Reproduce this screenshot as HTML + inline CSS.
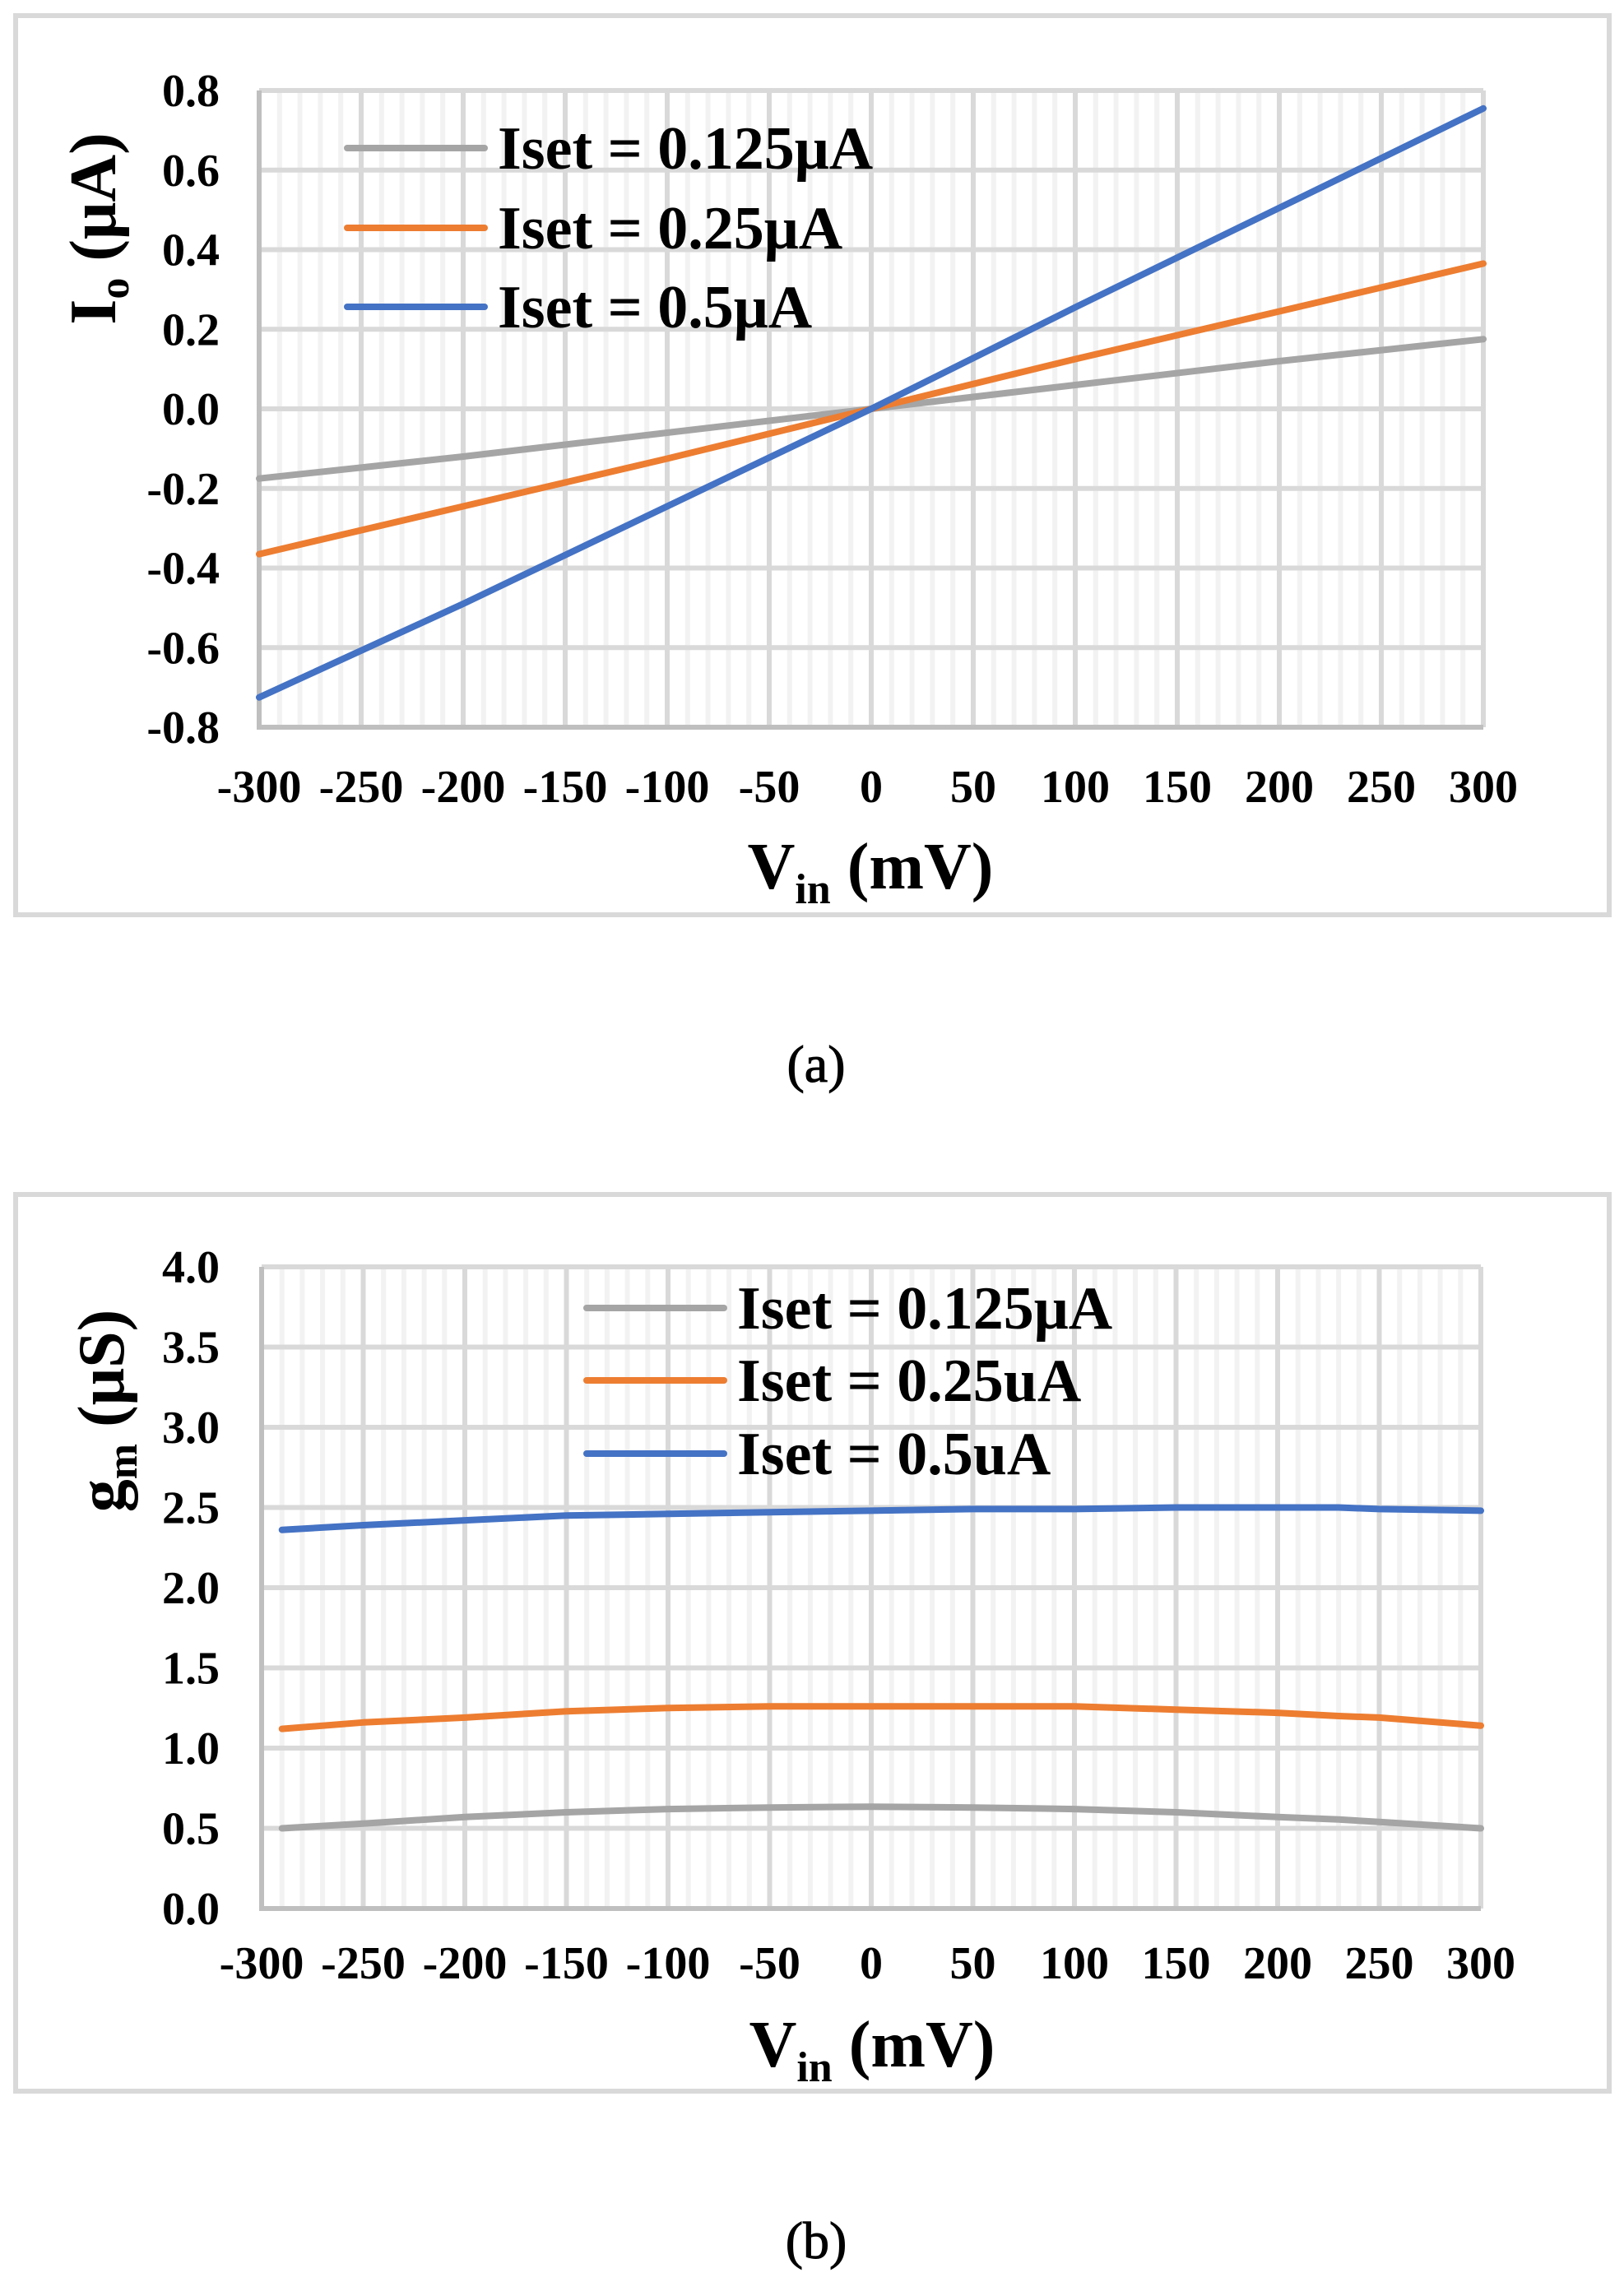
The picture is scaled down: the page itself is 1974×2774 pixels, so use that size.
<!DOCTYPE html>
<html><head><meta charset="utf-8"><style>
html,body{margin:0;padding:0;background:#fff;}
svg{display:block;}
text{font-family:"Liberation Serif",serif;}
</style></head><body>
<svg id="s" width="1974" height="2774" xmlns="http://www.w3.org/2000/svg"></svg>
<script>
// Chart (a) data
const xA = [-300,-200,-100,0,100,200,300];
const aGray = [-0.175,-0.12,-0.06,0,0.06,0.12,0.175];
const aOrange = [-0.365,-0.245,-0.125,0,0.125,0.245,0.365];
const aBlue = [-0.725,-0.49,-0.245,0,0.255,0.505,0.755];
const aYTicks = [-0.8,-0.6,-0.4,-0.2,0,0.2,0.4,0.6,0.8];
// Chart (b) data
const xB = [-290,-250,-200,-150,-100,-50,0,50,100,150,200,230,250,300];
const bGray = [0.50,0.53,0.57,0.60,0.62,0.63,0.635,0.63,0.62,0.60,0.57,0.555,0.54,0.50];
const bOrange = [1.12,1.16,1.19,1.23,1.25,1.26,1.26,1.26,1.26,1.24,1.22,1.20,1.19,1.14];
const bBlue = [2.36,2.39,2.42,2.45,2.46,2.47,2.48,2.49,2.49,2.50,2.50,2.50,2.49,2.48];
const bYTicks = [0,0.5,1,1.5,2,2.5,3,3.5,4];
const xTicks = [-300,-250,-200,-150,-100,-50,0,50,100,150,200,250,300];
const labelsA = ["Iset = 0.125μA","Iset = 0.25μA","Iset = 0.5μA"];
const labelsB = ["Iset = 0.125μA","Iset = 0.25uA","Iset = 0.5uA"];

const NS="http://www.w3.org/2000/svg";
const svg=document.getElementById('s');
function mk(tag,attrs,parent,txt){const e=document.createElementNS(NS,tag);for(const k in attrs)e.setAttribute(k,attrs[k]);if(txt!==undefined)e.textContent=txt;(parent||svg).appendChild(e);return e;}
const colors=["#a5a5a5","#ed7d31","#4472c4"];

function chart(cfg){
  const g=mk('g',{});
  
  
  const b=mk('rect',{x:cfg.box[0],y:cfg.box[1],width:cfg.box[2],height:cfg.box[3],fill:'#fff',stroke:'#d9d9d9','stroke-width':6},g);
  
  
  const L=cfg.L,R=cfg.R,T=cfg.T,B=cfg.B;
  const sx=v=>L+(v+300)/600*(R-L);
  const sy=v=>B-(v-cfg.ymin)/(cfg.ymax-cfg.ymin)*(B-T);
  for(let v=-290;v<300;v+=10){ if(v%50===0)continue;
    const l=mk('line',{x1:sx(v),x2:sx(v),y1:T,y2:B,stroke:'#f2f2f2','stroke-width':6},g);
    
    
  }
  xTicks.forEach(v=>{
    const l=mk('line',{x1:sx(v),x2:sx(v),y1:T,y2:B,stroke:'#d9d9d9','stroke-width':6},g);
    
    
  });
  cfg.yt.forEach(v=>{
    const l=mk('line',{x1:L,x2:R,y1:sy(v),y2:sy(v),stroke:'#d9d9d9','stroke-width':6},g);
    
    
    const t=mk('text',{x:267,y:sy(v)+19,'text-anchor':'end','font-size':56,'font-weight':'bold'},g,cfg.fmt(v));
    
    
  });
  const ax=mk('path',{d:`M${L},${T} L${L},${B} L${R},${B}`,fill:'none',stroke:'#bfbfbf','stroke-width':6},g);
  
  
  xTicks.forEach(v=>{
    const t=mk('text',{x:sx(v),y:cfg.xtY,'text-anchor':'middle','font-size':56,'font-weight':'bold'},g,String(v));
    
    
  });
  cfg.series.forEach((s,i)=>{
    const d=s.map((v,j)=>(j?'L':'M')+sx(cfg.xs[j]).toFixed(1)+','+sy(v).toFixed(1)).join(' ');
    const p=mk('path',{d:d,fill:'none',stroke:colors[i],'stroke-width':8,'stroke-linejoin':'round','stroke-linecap':'round'},g);
    
    
  });
  cfg.labels.forEach((lab,i)=>{
    const y=cfg.legY[i];
    const l=mk('line',{x1:cfg.legX,x2:cfg.legX+167,y1:y,y2:y,stroke:colors[i],'stroke-width':8,'stroke-linecap':'round'},g);
    
    
    const t=mk('text',{x:cfg.legX+183,y:y+25,'font-size':74,'font-weight':'bold'},g,lab);
    
    
  });
  const xt=mk('text',{x:cfg.xTitleX,y:cfg.xTitleY,'text-anchor':'middle','font-size':80,'font-weight':'bold'},g);
  
  
  mk('tspan',{},xt,'V');
  mk('tspan',{'font-size':52,dy:18},xt,'in');
  mk('tspan',{dy:-18},xt,' (mV)');
  const yt=mk('text',{x:0,y:0,'text-anchor':'middle','font-size':80,'font-weight':'bold',transform:`translate(${cfg.yTitleX},${cfg.yTitleY}) rotate(-90)`},g);
  
  
  mk('tspan',{},yt,cfg.yMain);
  mk('tspan',{'font-size':52,dy:16},yt,cfg.ySub);
  mk('tspan',{dy:-16},yt,cfg.yRest);
  const cap=mk('text',{x:992,y:cfg.capY,'text-anchor':'middle','font-size':64,stroke:'#000','stroke-width':1},g,cfg.cap);
  
  
}
chart({name:'chart-a',box:[19,19,1937,1093],L:315,R:1803,T:110,B:884,ymin:-0.8,ymax:0.8,yt:aYTicks,
  fmt:v=>v.toFixed(1),xtY:975,xs:xA,series:[aGray,aOrange,aBlue],labels:labelsA,legX:422,legY:[180,277,373],
  xTitleX:1058,xTitleY:1080,yTitleX:140,yTitleY:278,yMain:'I',ySub:'o',yRest:' (μA)',capY:1315,cap:'(a)'});
chart({name:'chart-b',box:[19,1452,1937,1090],L:318,R:1800,T:1540,B:2320,ymin:0,ymax:4,yt:bYTicks,
  fmt:v=>v.toFixed(1),xtY:2405,xs:xB,series:[bGray,bOrange,bBlue],labels:labelsB,legX:713,legY:[1590,1678,1767],
  xTitleX:1060,xTitleY:2512,yTitleX:150,yTitleY:1715,yMain:'g',ySub:'m',yRest:' (μS)',capY:2745,cap:'(b)'});
</script>
</body></html>
